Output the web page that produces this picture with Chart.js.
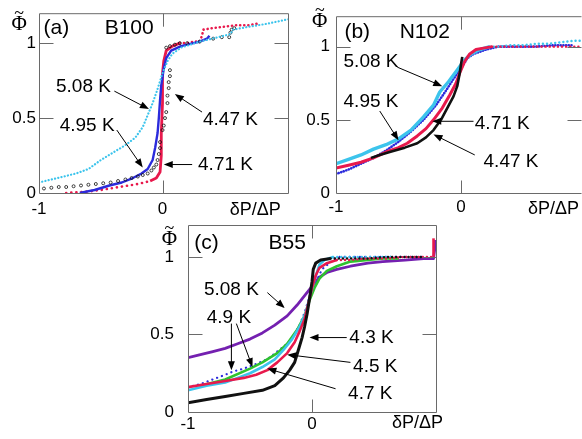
<!DOCTYPE html>
<html lang="en">
<head>
<meta charset="UTF-8">
<title>Phi vs dP/DP</title>
<script src="https://cdn.jsdelivr.net/npm/chart.js"></script>
<style>
  body { margin: 0; background: #fff; }
  #wrap { position: relative; width: 582px; height: 439px; }
  #wrap canvas { position: absolute; left: 0; top: 0; }
</style>
</head>
<body>
<div id="wrap">
  <canvas id="panelA" width="582" height="439"></canvas>
  <canvas id="panelB" width="582" height="439"></canvas>
  <canvas id="panelC" width="582" height="439"></canvas>
</div>
<script>
// axis ticks (same on all panels)
const xTickVals = [-1, 0];
const xTickLabels = ['-1', '0'];
const yTickVals = [0, 0.5, 1];
const yTickLabels = ['0', '0.5', '1'];

// ---- panel (a) B100 ----
const a508X = [-1.0, -0.85, -0.7, -0.6, -0.5, -0.4, -0.3, -0.22, -0.16, -0.12, -0.08, -0.05, -0.03, 0.0, 0.04, 0.08, 0.15, 0.3, 0.45, 0.55, 0.57, 0.7, 0.85, 1.02];
const a508Y = [0.07, 0.10, 0.13, 0.16, 0.22, 0.27, 0.32, 0.37, 0.44, 0.52, 0.60, 0.67, 0.72, 0.80, 0.88, 0.93, 0.97, 1.01, 1.04, 1.06, 1.09, 1.11, 1.13, 1.16];
const a495X = [-0.67, -0.55, -0.43, -0.33, -0.24, -0.17, -0.12, -0.08, -0.06, -0.04, -0.03, -0.02, -0.01, 0.01, 0.03, 0.07, 0.15, 0.3, 0.36, 0.38];
const a495Y = [0.0, 0.02, 0.05, 0.07, 0.10, 0.13, 0.16, 0.22, 0.30, 0.40, 0.50, 0.62, 0.72, 0.83, 0.90, 0.95, 0.98, 1.01, 1.03, 1.05];
const a471X = [-0.78, -0.6, -0.5, -0.35, -0.2, -0.1, -0.05, -0.02, -0.01, -0.01, 0.0, 0.0, 0.01, 0.03, 0.08, 0.14, 0.2, 0.25, 0.3, 0.32, 0.33, 0.4, 0.5, 0.6, 0.7, 0.77];
const a471Y = [0.0, 0.01, 0.02, 0.04, 0.06, 0.08, 0.10, 0.14, 0.25, 0.40, 0.60, 0.80, 0.88, 0.95, 0.98, 1.0, 1.0, 1.01, 1.01, 1.05, 1.09, 1.10, 1.11, 1.12, 1.12, 1.13];
const a447X = [-0.96, -0.9, -0.84, -0.78, -0.72, -0.66, -0.6, -0.54, -0.48, -0.42, -0.36, -0.3, -0.25, -0.2, -0.16, -0.12, -0.09, -0.07, -0.05, -0.04, -0.03, -0.02, -0.02, 0.0, 0.01, 0.02, 0.03, 0.04, 0.04, 0.05, 0.05, 0.06, 0.06, 0.03, 0.06, 0.10, 0.14, 0.2, 0.3, 0.41, 0.48, 0.54, 0.55, 0.56, 0.58];
const a447Y = [0.03, 0.035, 0.04, 0.04, 0.045, 0.05, 0.055, 0.06, 0.065, 0.07, 0.08, 0.09, 0.10, 0.11, 0.12, 0.13, 0.15, 0.17, 0.19, 0.22, 0.26, 0.30, 0.34, 0.42, 0.45, 0.50, 0.54, 0.60, 0.65, 0.70, 0.74, 0.78, 0.82, 0.97, 0.98, 0.99, 1.0, 1.0, 1.01, 1.03, 1.04, 1.04, 1.07, 1.09, 1.10];

// ---- panel (b) N102 ----
const b508X = [-1.0, -0.9, -0.8, -0.7, -0.6, -0.5, -0.4, -0.3, -0.22, -0.17, -0.1, -0.03, 0.03, 0.08, 0.15, 0.23, 0.3, 0.4, 0.5, 0.6, 0.7, 0.8, 0.9, 0.97];
const b508Y = [0.20, 0.23, 0.26, 0.30, 0.33, 0.37, 0.43, 0.52, 0.60, 0.69, 0.76, 0.84, 0.91, 0.95, 0.98, 1.0, 1.0, 1.01, 1.01, 1.02, 1.02, 1.03, 1.04, 1.04];
const b495X = [-1.0, -0.9, -0.8, -0.7, -0.6, -0.5, -0.4, -0.3, -0.2, -0.12, -0.06, 0.0, 0.05, 0.1, 0.2, 0.3, 0.45, 0.6, 0.75, 0.9];
const b495Y = [0.13, 0.16, 0.20, 0.24, 0.29, 0.35, 0.42, 0.50, 0.60, 0.70, 0.78, 0.85, 0.92, 0.95, 0.98, 1.0, 1.0, 1.0, 1.01, 1.01];
const b471X = [-1.0, -0.9, -0.8, -0.7, -0.6, -0.5, -0.43, -0.35, -0.28, -0.22, -0.15, -0.09, -0.04, -0.01, 0.03, 0.07, 0.12, 0.18, 0.25, 0.35, 0.5, 0.65, 0.8, 0.95];
const b471Y = [0.17, 0.19, 0.21, 0.24, 0.28, 0.31, 0.34, 0.39, 0.44, 0.50, 0.58, 0.67, 0.75, 0.82, 0.90, 0.95, 0.98, 0.99, 1.0, 1.0, 1.0, 1.0, 1.0, 1.0];
const b447X = [-0.72, -0.65, -0.57, -0.45, -0.35, -0.28, -0.22, -0.16, -0.11, -0.06, -0.03, -0.01, 0.0, 0.01];
const b447Y = [0.24, 0.26, 0.28, 0.31, 0.34, 0.38, 0.43, 0.50, 0.58, 0.66, 0.73, 0.82, 0.88, 0.93];

// ---- panel (c) B55 ----
const c508X = [-1.0, -0.9, -0.8, -0.7, -0.6, -0.5, -0.4, -0.3, -0.2, -0.12, -0.05, 0.0, 0.06, 0.12, 0.2, 0.31, 0.45, 0.57, 0.75, 0.9, 0.98, 0.99, 0.99];
const c508Y = [0.35, 0.37, 0.39, 0.41, 0.44, 0.47, 0.51, 0.56, 0.62, 0.69, 0.76, 0.81, 0.87, 0.90, 0.92, 0.94, 0.96, 0.97, 0.98, 0.99, 0.99, 1.05, 1.11];
const c49gX = [-0.9, -0.7, -0.5, -0.4, -0.28, -0.2, -0.12, -0.06, -0.02, 0.02, 0.06, 0.12, 0.2, 0.31, 0.45, 0.57, 0.7];
const c49gY = [0.17, 0.21, 0.28, 0.32, 0.38, 0.44, 0.53, 0.62, 0.72, 0.80, 0.86, 0.91, 0.94, 0.97, 0.98, 0.99, 0.99];
const c49cX = [-1.0, -0.85, -0.7, -0.6, -0.5, -0.4, -0.3, -0.23, -0.16, -0.1, -0.05, -0.02, 0.02, 0.06, 0.1, 0.17, 0.25, 0.35, 0.5, 0.65];
const c49cY = [0.14, 0.17, 0.19, 0.22, 0.25, 0.29, 0.34, 0.40, 0.47, 0.55, 0.64, 0.74, 0.85, 0.95, 0.98, 1.0, 1.0, 1.0, 1.0, 1.0];
const c49bX = [-1.0, -0.9, -0.8, -0.7, -0.64, -0.55, -0.45, -0.36, -0.28, -0.2, -0.15, -0.1, -0.06, -0.03, 0.0, 0.04, 0.08, 0.2, 0.3, 0.45, 0.6, 0.75, 0.9];
const c49bY = [0.16, 0.18, 0.21, 0.24, 0.26, 0.28, 0.31, 0.34, 0.39, 0.44, 0.49, 0.56, 0.64, 0.72, 0.79, 0.85, 0.92, 1.0, 1.0, 1.0, 1.0, 1.0, 1.0];
const c45X = [-1.0, -0.85, -0.7, -0.55, -0.45, -0.36, -0.28, -0.2, -0.14, -0.1, -0.06, -0.03, 0.0, 0.03, 0.06, 0.12, 0.2, 0.3, 0.45, 0.6, 0.75, 0.9, 0.98, 0.98, 0.98];
const c45Y = [0.16, 0.18, 0.20, 0.22, 0.24, 0.27, 0.32, 0.38, 0.45, 0.52, 0.60, 0.70, 0.80, 0.88, 0.93, 0.96, 0.98, 0.98, 0.99, 0.99, 1.0, 1.0, 1.0, 1.06, 1.12];
const c43X = [-1.0, -0.85, -0.7, -0.55, -0.4, -0.3, -0.23, -0.18, -0.14, -0.11, -0.08, -0.06, -0.04, -0.02, 0.0, 0.01, 0.03, 0.07, 0.15, 0.3, 0.45, 0.6, 0.75, 0.9];
const c43Y = [0.06, 0.08, 0.10, 0.12, 0.14, 0.17, 0.22, 0.27, 0.32, 0.40, 0.48, 0.55, 0.63, 0.73, 0.84, 0.92, 0.96, 0.98, 0.99, 0.99, 0.99, 1.0, 1.0, 1.0];

const SANS = '"Liberation Sans", Arial, sans-serif';
const SERIF = '"Liberation Serif", "DejaVu Serif", serif';
const CYAN = '#3cc4ec', RED = '#e8194c', BLUE = '#2b2bdc', PURPLE = '#7420b0', GREEN = '#2ec22e', BLACK = '#111';

function pts(xs, ys) { return xs.map((x, i) => ({ x: x, y: ys[i] })); }

function solid(xs, ys, color, w) {
  return { data: pts(xs, ys), showLine: true, borderColor: color, borderWidth: w,
           pointRadius: 0, tension: 0, borderJoinStyle: 'round' };
}
function dotted(xs, ys, color, w, gap) {
  return { data: pts(xs, ys), showLine: true, borderColor: color, borderWidth: w,
           borderDash: [0.1, gap], borderCapStyle: 'round', pointRadius: 0, tension: 0 };
}
function circles(xs, ys, color, r) {
  return { data: pts(xs, ys), showLine: false, pointRadius: r, pointBorderColor: color,
           pointBackgroundColor: 'rgba(0,0,0,0)', pointBorderWidth: 0.8 };
}

// box, inner ticks, labels and arrows
const framePlugin = {
  id: 'frame',
  afterDatasetsDraw(chart, args, o) {
    const ctx = chart.ctx, a = chart.chartArea;
    const sx = chart.scales.x, sy = chart.scales.y;
    const L = a.left + 0.5, R = a.right - 0.5, T = a.top + 0.5, B = a.bottom + 0.5;
    ctx.save();
    ctx.strokeStyle = '#6a6a6a';
    ctx.lineWidth = 1;
    ctx.beginPath();
    ctx.moveTo(L, B); ctx.lineTo(L, T); ctx.lineTo(R, T);
    if (o.rightBorder) ctx.lineTo(R, B);
    ctx.moveTo(L, B); ctx.lineTo(R, B);
    [0.5, 1].forEach(v => {
      const y = Math.round(sy.getPixelForValue(v)) + 0.5;
      ctx.moveTo(L, y); ctx.lineTo(L + 14, y);
      ctx.moveTo(R, y); ctx.lineTo(R - 14, y);
    });
    const x0 = Math.round(sx.getPixelForValue(0)) + 0.5;
    ctx.moveTo(x0, B); ctx.lineTo(x0, B - 13);
    ctx.moveTo(x0, T); ctx.lineTo(x0, T + 13);
    ctx.stroke();

    ctx.fillStyle = '#000';
    ctx.textAlign = 'center';
    ctx.textBaseline = 'middle';
    o.texts.forEach(t => {
      ctx.font = (t.size || 19) + 'px ' + SANS;
      ctx.fillText(t.t, sx.getPixelForValue(t.x), sy.getPixelForValue(t.y));
    });

    // Phi with tilde
    const px = sx.getPixelForValue(o.phi[0]), py = sy.getPixelForValue(o.phi[1]);
    ctx.font = '21px ' + SERIF;
    ctx.fillText('\u03A6', px, py + 7);
    ctx.font = '18px ' + SERIF;
    ctx.fillText('~', px, py - 3);

    ctx.strokeStyle = '#000';
    ctx.lineWidth = 1;
    o.arrows.forEach(ar => {
      const x1 = sx.getPixelForValue(ar[0]), y1 = sy.getPixelForValue(ar[1]);
      const x2 = sx.getPixelForValue(ar[2]), y2 = sy.getPixelForValue(ar[3]);
      const ang = Math.atan2(y2 - y1, x2 - x1);
      ctx.beginPath();
      ctx.moveTo(x1, y1);
      ctx.lineTo(x2 - 6 * Math.cos(ang), y2 - 6 * Math.sin(ang));
      ctx.stroke();
      ctx.beginPath();
      ctx.moveTo(x2, y2);
      ctx.lineTo(x2 - 9 * Math.cos(ang) + 3.5 * Math.sin(ang), y2 - 9 * Math.sin(ang) - 3.5 * Math.cos(ang));
      ctx.lineTo(x2 - 9 * Math.cos(ang) - 3.5 * Math.sin(ang), y2 - 9 * Math.sin(ang) + 3.5 * Math.cos(ang));
      ctx.closePath();
      ctx.fill();
    });
    ctx.restore();
  }
};

function panel(id, p) {
  return new Chart(document.getElementById(id), {
    type: 'scatter',
    data: { datasets: p.datasets },
    options: {
      responsive: false,
      animation: false,
      events: [],
      layout: { padding: p.pad },
      plugins: { legend: { display: false }, tooltip: { enabled: false }, frame: p.frame },
      scales: {
        x: {
          type: 'linear', min: -1, max: p.xMax,
          afterFit: s => { s.height = 27; },
          afterBuildTicks: s => { s.ticks = xTickVals.map(v => ({ value: v })); },
          grid: { display: false, drawTicks: false },
          border: { display: false },
          ticks: { font: { family: SANS, size: 17 }, color: '#000', padding: p.xPad,
                   maxRotation: 0, autoSkip: false, callback: (v, i) => xTickLabels[i] }
        },
        y: {
          type: 'linear', min: 0, max: p.yMax,
          afterFit: s => { s.width = p.yW; },
          afterBuildTicks: s => { s.ticks = yTickVals.map(v => ({ value: v })); },
          grid: { display: false, drawTicks: false },
          border: { display: false },
          ticks: { font: { family: SANS, size: 17 }, color: '#000', padding: p.yPad,
                   autoSkip: false, callback: (v, i) => yTickLabels[i] }
        }
      }
    },
    plugins: [framePlugin]
  });
}

panel('panelA', {
  pad: { left: 0, top: 8, right: 293, bottom: 219 }, yW: 39, xMax: 1.024, yMax: 1.2, xPad: 6, yPad: 3,
  datasets: [
    dotted(a508X, a508Y, CYAN, 2.2, 3.2),
    circles(a447X, a447Y, BLACK, 1.5),
    solid(a495X, a495Y, BLUE, 2.4),
    dotted(a471X.slice(0, 6), a471Y.slice(0, 6), RED, 2.6, 5),
    solid(a471X.slice(5, 16), a471Y.slice(5, 16), RED, 2.8),
    dotted(a471X.slice(15), a471Y.slice(15), RED, 2.6, 4)
  ],
  frame: {
    rightBorder: true, phi: [-1.16, 1.17],
    texts: [
      { t: '(a)', x: -0.86, y: 1.1, size: 21 }, { t: 'B100', x: -0.27, y: 1.1, size: 21 },
      { t: '\u03B4P/\u0394P', x: 0.75, y: -0.115, size: 18 },
      { t: '5.08 K', x: -0.64, y: 0.71 }, { t: '4.95 K', x: -0.61, y: 0.45 },
      { t: '4.47 K', x: 0.55, y: 0.49 }, { t: '4.71 K', x: 0.51, y: 0.19 }
    ],
    arrows: [
      [-0.39, 0.68, -0.11, 0.56], [-0.37, 0.42, -0.16, 0.17],
      [0.32, 0.54, 0.10, 0.66], [0.24, 0.19, 0.01, 0.19]
    ]
  }
});

panel('panelB', {
  pad: { left: 290, top: 7, right: 0, bottom: 219 }, yW: 46, xMax: 0.968, yMax: 1.208, xPad: 4, yPad: 6,
  datasets: [
    solid(b447X, b447Y, BLACK, 2.6),
    solid(b471X.slice(0, 19), b471Y.slice(0, 19), RED, 3),
    dotted(b471X.slice(18), b471Y.slice(18), RED, 2.4, 4),
    solid(b508X.slice(0, 16), b508Y.slice(0, 16), CYAN, 3.4),
    dotted(b508X.slice(15), b508Y.slice(15), CYAN, 2.4, 4),
    dotted(b495X, b495Y, BLUE, 2.6, 2.6)
  ],
  frame: {
    rightBorder: false, phi: [-1.13, 1.22],
    texts: [
      { t: '(b)', x: -0.83, y: 1.1, size: 21 }, { t: 'N102', x: -0.29, y: 1.1, size: 21 },
      { t: '\u03B4P/\u0394P', x: 0.74, y: -0.11, size: 18 },
      { t: '5.08 K', x: -0.72, y: 0.9 }, { t: '4.95 K', x: -0.72, y: 0.62 },
      { t: '4.71 K', x: 0.33, y: 0.47 }, { t: '4.47 K', x: 0.4, y: 0.21 }
    ],
    arrows: [
      [-0.51, 0.86, -0.15, 0.73], [-0.65, 0.56, -0.5, 0.36],
      [0.1, 0.49, -0.23, 0.49], [0.11, 0.26, -0.22, 0.4]
    ]
  }
});

panel('panelC', {
  pad: { left: 140, top: 225, right: 145, bottom: 0 }, yW: 48, xMax: 1.008, yMax: 1.206, xPad: 2, yPad: 14,
  datasets: [
    solid(c43X.slice(0, 19), c43Y.slice(0, 19), BLACK, 3),
    dotted(c43X.slice(18), c43Y.slice(18), BLACK, 2.4, 4),
    solid(c45X.slice(0, 17), c45Y.slice(0, 17), RED, 2.6),
    dotted(c45X.slice(16, 23), c45Y.slice(16, 23), RED, 2.4, 4),
    solid(c45X.slice(22), c45Y.slice(22), RED, 2.6),
    solid(c49cX.slice(0, 16), c49cY.slice(0, 16), CYAN, 2.6),
    dotted(c49cX.slice(15), c49cY.slice(15), CYAN, 2.4, 4),
    solid(c49gX, c49gY, GREEN, 2.6),
    dotted(c49bX, c49bY, BLUE, 2.2, 5),
    solid(c508X, c508Y, PURPLE, 2.8)
  ],
  frame: {
    rightBorder: true, phi: [-1.15, 1.16],
    texts: [
      { t: '(c)', x: -0.85, y: 1.09, size: 21 }, { t: 'B55', x: -0.2, y: 1.09, size: 21 },
      { t: '\u03B4P/\u0394P', x: 0.85, y: -0.068, size: 18 },
      { t: '5.08 K', x: -0.65, y: 0.79 }, { t: '4.9 K', x: -0.67, y: 0.61 },
      { t: '4.3 K', x: 0.48, y: 0.48 }, { t: '4.5 K', x: 0.51, y: 0.29 }, { t: '4.7 K', x: 0.47, y: 0.12 }
    ],
    arrows: [
      [-0.36, 0.77, -0.22, 0.67], [-0.65, 0.57, -0.65, 0.27], [-0.61, 0.57, -0.48, 0.29],
      [0.28, 0.48, -0.02, 0.48], [0.31, 0.32, -0.2, 0.37], [0.19, 0.15, -0.36, 0.28]
    ]
  }
});
</script>
</body>
</html>
